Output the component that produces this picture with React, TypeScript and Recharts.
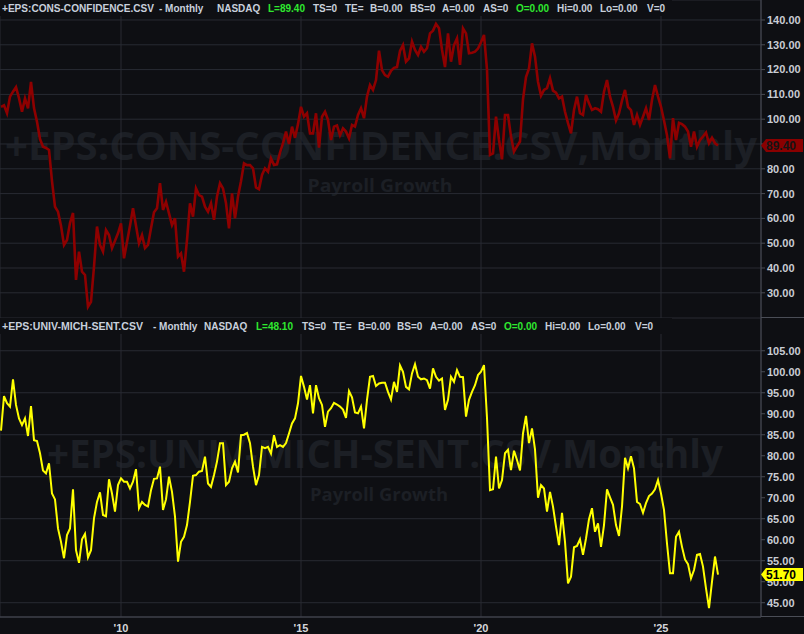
import React from "react";
import { LineChart, Line, XAxis, YAxis, CartesianGrid, ReferenceLine } from "recharts";

// months are counted from Aug 2006 (index 0); first plotted value is Sep 2006
const FIRST_MONTH = 1;
const monthIndex = (year: number, month: number) => (year - 2006) * 12 + (month - 8);

// Conference Board consumer confidence, monthly, Sep 2006 .. Aug 2026
const consConfidence = [
  105.0, 105.6, 102.4, 109.1, 111.1, 112.9, 108.5, 103.0, 108.4, 104.4,
  115.0, 104.5, 99.0, 92.0, 88.9, 88.4, 87.6, 75.0, 64.7, 62.7,
  57.0, 49.3, 51.3, 58.1, 62.2, 35.2, 46.6, 38.5, 37.2, 24.4,
  26.4, 40.5, 56.7, 49.3, 46.6, 55.3, 53.3, 48.0, 51.0, 54.0,
  58.0, 43.9, 50.5, 57.0, 64.1, 57.0, 50.0, 53.3, 48.0, 49.3,
  56.0, 62.5, 64.1, 74.2, 63.4, 66.7, 62.0, 57.3, 60.0, 44.6,
  45.9, 38.5, 51.3, 66.1, 60.7, 72.1, 69.4, 68.8, 64.7, 62.7,
  66.1, 59.4, 68.8, 74.2, 72.1, 66.1, 56.0, 70.1, 60.0, 68.8,
  75.0, 82.2, 81.5, 81.5, 80.2, 72.5, 71.8, 77.5, 80.2, 78.8,
  84.2, 81.5, 81.8, 86.5, 90.3, 95.0, 90.0, 97.0, 92.5, 98.0,
  105.0, 101.0, 102.4, 94.3, 94.3, 102.4, 88.5, 101.0, 103.0, 99.7,
  91.6, 97.0, 97.5, 93.5, 96.3, 95.0, 92.3, 97.7, 97.0, 101.7,
  104.4, 100.4, 109.1, 113.8, 111.8, 115.8, 127.6, 119.8, 117.8, 117.1,
  119.5, 120.7, 121.0, 127.5, 129.9, 123.2, 124.5, 131.3, 127.9, 125.9,
  129.2, 127.2, 128.6, 134.6, 135.7, 138.4, 136.7, 128.0, 121.0, 134.6,
  123.2, 129.9, 132.6, 121.9, 136.6, 134.6, 126.6, 126.8, 127.2, 128.5,
  131.0, 134.0, 120.0, 85.6, 86.2, 101.0, 91.6, 83.8, 101.7, 101.7,
  93.0, 86.9, 89.0, 91.0, 108.0, 117.0, 120.5, 130.6, 125.2, 115.1,
  109.5, 111.8, 112.5, 116.5, 111.5, 110.7, 108.4, 109.1, 103.0, 98.4,
  94.3, 103.7, 109.1, 102.4, 101.7, 109.8, 106.4, 103.7, 104.4, 104.0,
  103.0, 111.1, 115.8, 109.1, 105.0, 99.5, 102.4, 107.5, 111.8, 105.0,
  103.7, 97.7, 101.7, 97.7, 101.0, 104.4, 99.7, 107.7, 113.8, 109.1,
  105.0, 99.5, 93.5, 84.2, 100.4, 91.6, 98.5, 98.0, 97.0, 95.0,
  88.9, 95.0, 88.9, 91.6, 93.0, 94.6, 90.3, 92.5, 90.3, 89.4,
];

// University of Michigan sentiment, monthly, Sep 2006 .. Aug 2026
const michSentiment = [
  86.0, 94.2, 92.5, 91.7, 98.2, 92.1, 88.9, 87.3, 88.9, 84.7,
  91.8, 83.7, 83.5, 80.6, 76.5, 75.8, 78.2, 71.0, 69.6, 62.7,
  59.5, 55.6, 61.1, 62.7, 72.0, 57.5, 54.5, 60.1, 61.4, 55.8,
  57.5, 65.1, 69.0, 71.3, 65.9, 65.6, 74.4, 71.0, 66.7, 73.0,
  74.6, 73.8, 73.8, 72.2, 73.8, 76.8, 67.5, 69.0, 68.3, 67.9,
  71.8, 74.5, 74.6, 77.4, 67.1, 69.6, 75.0, 71.4, 65.5, 54.8,
  59.5, 60.7, 63.5, 69.0, 75.2, 75.4, 76.2, 76.4, 79.8, 73.4,
  72.6, 75.4, 78.6, 83.0, 83.0, 73.0, 73.8, 77.0, 78.6, 76.0,
  84.9, 85.0, 85.4, 83.0, 77.4, 73.0, 75.4, 82.1, 81.8, 82.1,
  80.5, 84.9, 82.1, 82.5, 82.1, 83.0, 85.3, 87.7, 88.9, 92.5,
  99.0, 96.4, 93.4, 96.8, 90.1, 96.8, 93.7, 92.1, 86.9, 90.5,
  91.3, 92.6, 92.2, 91.7, 91.0, 89.0, 95.4, 93.9, 90.3, 90.1,
  91.7, 86.5, 93.3, 98.8, 99.0, 96.6, 97.2, 97.4, 97.4, 95.2,
  93.4, 97.6, 95.2, 101.5, 100.0, 96.4, 95.8, 99.6, 101.8, 98.8,
  98.2, 98.4, 98.0, 96.0, 100.8, 98.8, 97.9, 98.4, 90.9, 93.3,
  98.8, 97.6, 100.4, 98.8, 98.7, 89.3, 93.3, 95.2, 96.8, 99.2,
  100.0, 101.6, 89.0, 71.8, 72.0, 79.8, 72.2, 74.2, 80.6, 81.4,
  76.6, 81.2, 79.0, 76.5, 85.3, 89.5, 83.0, 86.5, 81.5, 70.0,
  73.0, 72.2, 66.7, 71.4, 67.9, 63.1, 58.7, 66.4, 59.5, 49.6,
  51.2, 58.2, 58.5, 60.1, 56.4, 60.3, 64.9, 67.5, 61.9, 63.9,
  58.3, 63.5, 72.0, 70.1, 68.3, 63.5, 60.9, 67.9, 79.5, 77.0,
  79.9, 77.0, 69.0, 68.5, 66.4, 68.7, 70.4, 71.0, 72.0, 74.2,
  71.0, 67.1, 59.1, 52.0, 52.0, 60.7, 61.9, 58.3, 55.3, 54.2,
  50.8, 52.8, 56.4, 56.6, 53.6, 48.4, 43.7, 50.0, 56.0, 51.7,
];

const tickYears = [2010, 2015, 2020, 2025];
const tickYearLabels = ["'10", "'15", "'20", "'25"];
const confTicks = [30, 40, 50, 60, 70, 80, 90, 100, 110, 120, 130, 140];
const sentTicks = [45, 50, 55, 60, 65, 70, 75, 80, 85, 90, 95, 100, 105];

const topHeader: [string, number, boolean][] = [
  ["+EPS:CONS-CONFIDENCE.CSV", 2, false], ["- Monthly", 159, false], ["NASDAQ", 217, false],
  ["L=89.40", 268, true], ["TS=0", 313, false], ["TE=", 345, false], ["B=0.00", 370, false],
  ["BS=0", 410, false], ["A=0.00", 442, false], ["AS=0", 483, false], ["O=0.00", 516, true],
  ["Hi=0.00", 557, false], ["Lo=0.00", 600, false], ["V=0", 647, false],
];
const bottomHeader: [string, number, boolean][] = [
  ["+EPS:UNIV-MICH-SENT.CSV", 2, false], ["- Monthly", 153, false], ["NASDAQ", 204, false],
  ["L=48.10", 256, true], ["TS=0", 302, false], ["TE=", 333, false], ["B=0.00", 358, false],
  ["BS=0", 397, false], ["A=0.00", 430, false], ["AS=0", 471, false], ["O=0.00", 504, true],
  ["Hi=0.00", 545, false], ["Lo=0.00", 588, false], ["V=0", 635, false],
];

const BG = "#0e0f13";
const GRID = "#282b33";
const AXIS = "#4a4d56";
const TICK = { fill: "#c9ccd3", fontSize: 11, fontWeight: "bold", fontFamily: "Arial" };
const WATERMARK = "#1c1f25";

const xTicks = tickYears.map((y) => monthIndex(y, 1));
const xDomain = [2 / 3, 2 / 3 + 761 / 3];
const confDomain = [19.84, 148.06];
const sentDomain = [41.6, 112.8];
const confData = consConfidence.map((v, k) => ({ m: FIRST_MONTH + k, v }));
const sentData = michSentiment.map((v, k) => ({ m: FIRST_MONTH + k, v }));

function PriceTag({ viewBox, text, fill, color }: any) {
  if (!viewBox) return null;
  const x = viewBox.x + viewBox.width;
  const y = viewBox.y;
  return (
    <g>
      <polygon
        points={`${x},${y} ${x + 5},${y - 6.5} ${x + 42},${y - 6.5} ${x + 42},${y + 6.5} ${x + 5},${y + 6.5}`}
        fill={fill}
      />
      <text x={x + 5} y={y + 4.5} fill={color} fontSize={12} fontWeight="bold" fontFamily="Arial">
        {text}
      </text>
    </g>
  );
}

// a see-through copy of a panel's layout, drawn above it, that only carries the last-value tag
function TagLayer({ data, domain, height, xHeight, value, fill, color }: any) {
  return (
    <LineChart width={804} height={height} data={data} margin={{ top: 0, right: 0, bottom: 0, left: 0 }}>
      <XAxis dataKey="m" type="number" domain={xDomain} allowDataOverflow height={xHeight} hide={!xHeight} tick={false} axisLine={false} tickLine={false} />
      <YAxis orientation="right" width={43} type="number" domain={domain} allowDataOverflow tick={false} axisLine={false} tickLine={false} />
      <ReferenceLine y={value} stroke="none" label={<PriceTag text={value.toFixed(2)} fill={fill} color={color} />} />
    </LineChart>
  );
}

function Header({ items, top }: { items: [string, number, boolean][]; top: number }) {
  return (
    <svg width={672} height={16} style={{ position: "absolute", left: 0, top }}>
      <rect width={672} height={16} fill={BG} />
      {items.map(([t, x, green], k) => (
        <text
          key={t}
          x={x}
          y={12}
          fontSize={10}
          fontWeight="bold"
          fontFamily="Arial"
          fill={green ? "#2fe82f" : "#c8d0dc"}
          textLength={k === 0 ? (top ? 141 : 152) : undefined}
          lengthAdjust="spacingAndGlyphs"
        >
          {t}
        </text>
      ))}
    </svg>
  );
}

export default function App() {
  const lastConf = consConfidence[consConfidence.length - 1];
  const lastSent = michSentiment[michSentiment.length - 1];
  return (
    <div style={{ position: "absolute", left: 0, top: 0, width: 804, height: 634, background: BG, overflow: "hidden" }}>
      <svg width={804} height={634} style={{ position: "absolute", left: 0, top: 0 }}>
        <g fill={WATERMARK} fontFamily="'Open Sans'" fontWeight="bold" textAnchor="middle">
          <text x={381} y={160} fontSize={39} textLength={752} lengthAdjust="spacingAndGlyphs">
            +EPS:CONS-CONFIDENCE.CSV,Monthly
          </text>
          <text x={380} y={192} fontSize={18} textLength={145} lengthAdjust="spacingAndGlyphs">
            Payroll Growth
          </text>
          <text x={385} y={468} fontSize={39} textLength={676} lengthAdjust="spacingAndGlyphs">
            +EPS:UNIV-MICH-SENT.CSV,Monthly
          </text>
          <text x={379} y={501} fontSize={18} textLength={138} lengthAdjust="spacingAndGlyphs">
            Payroll Growth
          </text>
        </g>
      </svg>

      <div style={{ position: "absolute", left: 0, top: 0 }}>
        <LineChart width={804} height={318} data={confData} margin={{ top: 0, right: 0, bottom: 0, left: 0 }}>
          <CartesianGrid stroke={GRID} />
          <XAxis dataKey="m" type="number" domain={xDomain} ticks={xTicks} allowDataOverflow hide />
          <YAxis
            orientation="right"
            width={43}
            type="number"
            domain={confDomain}
            allowDataOverflow
            ticks={confTicks}
            tickFormatter={(v: number) => v.toFixed(2)}
            tick={TICK}
            tickSize={4}
            tickMargin={2}
            axisLine={{ stroke: AXIS }}
            tickLine={{ stroke: AXIS }}
          />
          <Line dataKey="v" type="linear" stroke="#8e0000" strokeWidth={2.6} dot={false} isAnimationActive={false} />
        </LineChart>
      </div>

      <div style={{ position: "absolute", left: 0, top: 318 }}>
        <LineChart width={804} height={316} data={sentData} margin={{ top: 0, right: 0, bottom: 0, left: 0 }}>
          <CartesianGrid stroke={GRID} />
          <XAxis
            dataKey="m"
            type="number"
            domain={xDomain}
            ticks={xTicks}
            allowDataOverflow
            height={17}
            tickFormatter={(m: number) => tickYearLabels[xTicks.indexOf(m)]}
            tick={{ ...TICK, fill: "#d4d6db" }}
            tickLine={false}
            tickSize={0}
            tickMargin={7}
            axisLine={{ stroke: AXIS }}
          />
          <YAxis
            orientation="right"
            width={43}
            type="number"
            domain={sentDomain}
            allowDataOverflow
            ticks={sentTicks}
            tickFormatter={(v: number) => v.toFixed(2)}
            tick={TICK}
            tickSize={4}
            tickMargin={2}
            axisLine={{ stroke: AXIS }}
            tickLine={{ stroke: AXIS }}
          />
          <Line dataKey="v" type="linear" stroke="#ffff00" strokeWidth={2} dot={false} isAnimationActive={false} />
        </LineChart>
      </div>

      <div style={{ position: "absolute", left: 0, top: 0 }}>
        <TagLayer data={confData} domain={confDomain} height={318} xHeight={0} value={lastConf} fill="#8a0000" color="#141414" />
      </div>
      <div style={{ position: "absolute", left: 0, top: 318 }}>
        <TagLayer data={sentData} domain={sentDomain} height={316} xHeight={17} value={lastSent} fill="#ffff00" color="#000000" />
      </div>

      <Header items={topHeader} top={0} />
      <Header items={bottomHeader} top={318} />
      <div style={{ position: "absolute", left: 761, top: 317, width: 43, height: 1, background: AXIS }} />
      <div style={{ position: "absolute", left: 761, top: 616, width: 43, height: 1, background: AXIS }} />
    </div>
  );
}
